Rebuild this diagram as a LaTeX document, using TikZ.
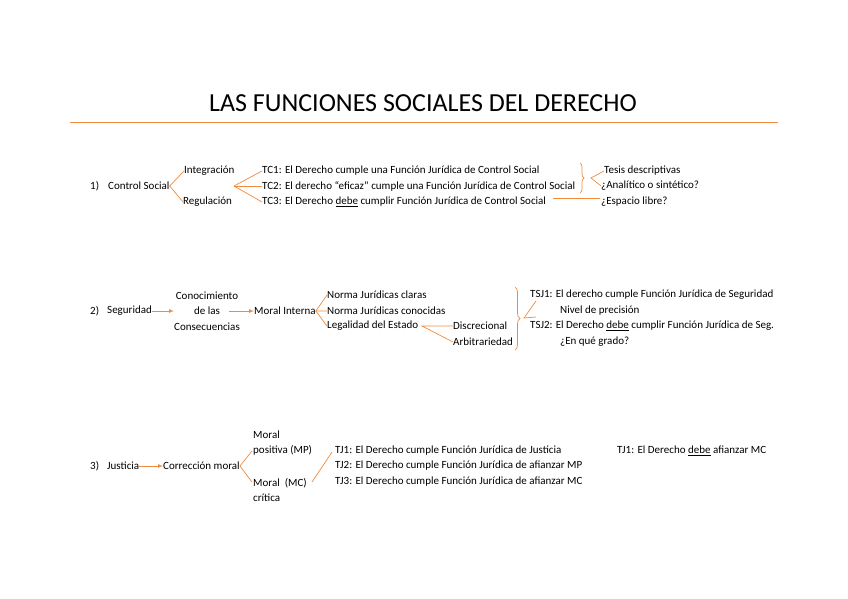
\documentclass[tikz,border=0pt]{standalone}
\usepackage{fontspec}
\setmainfont{Carlito}
\usetikzlibrary{decorations.pathreplacing}
\definecolor{org}{HTML}{F08A3C}
\begin{document}
\begin{tikzpicture}[x=1pt,y=-1pt,
  t/.style={anchor=west,inner sep=0pt,font=\fontsize{11}{12}\selectfont},
  ln/.style={org,line width=0.7pt},
  ar/.style={org,line width=0.7pt,-latex}]
\useasboundingbox (0,0) rectangle (848,599);
\node[inner sep=0pt,font=\fontsize{26}{30}\selectfont] (title) at (423,103) {LAS FUNCIONES SOCIALES DEL DERECHO};
\coordinate (l1) at (70,122); \coordinate (l2) at (778,122);
\draw[org,line width=0.8pt] (l1) -- (l2);
% row 1
\node[t] (n1) at (90,186) {1)};
\node[t] (cs) at (108,186) {Control Social};
\node[t] (int) at (184,171) {Integración};
\node[t] (reg) at (183,202) {Regulación};
\draw[ln] (int.west) -- (cs.east) -- (reg.west);
\node[t] (tc1) at (262,171) {TC1: El Derecho cumple una Función Jurídica de Control Social};
\node[t] (tc2) at (262,186) {TC2: El derecho “eficaz” cumple una Función Jurídica de Control Social};
\node[t] (tc3) at (262,202) {TC3: El Derecho \underline{debe} cumplir Función Jurídica de Control Social};
\coordinate (b1) at (234,186);
\draw[ln] (b1) -- (tc1.west); \draw[ln] (b1) -- (tc2.west); \draw[ln] (b1) -- (tc3.west);
\coordinate (br1a) at (580,163); \coordinate (br1b) at (580,193);
\draw[ln,decorate,decoration={brace,amplitude=4pt}] (br1a) -- (br1b);
\node[t] (tes) at (604,171) {Tesis descriptivas};
\node[t] (ana) at (601,186) {¿Analítico o sintético?};
\node[t] (esp) at (601,202) {¿Espacio libre?};
\coordinate (tip1) at (591,178);
\draw[ln] (tes.west) -- (tip1) -- (ana.west);
\coordinate (h1) at (553,198); \coordinate (h2) at (600,198);
\draw[ln] (h1) -- (h2);
% row 2
\node[t] (n2) at (90,311) {2)};
\node[t] (seg) at (107,311) {Seguridad};
\node[t,align=center,anchor=center] (con) at (207,311) {Conocimiento\\[3.5pt] de las\\[3.5pt]Consecuencias};
\node[t] (mi) at (254,311) {Moral Interna};
\draw[ar] (seg.east) -- (con.west |- seg.east);
\draw[ar] (229,311) -- (mi.west);
\node[t] (nc) at (327,295) {Norma Jurídicas claras};
\node[t] (nco) at (327,311) {Norma Jurídicas conocidas};
\node[t] (leg) at (327,326) {Legalidad del Estado};
\draw[ln] (nc.west) -- (mi.east) -- (nco.west); \draw[ln] (mi.east) -- (leg.west);
\node[t] (dis) at (453,326) {Discrecional};
\node[t] (arb) at (453,342) {Arbitrariedad};
\coordinate (b2) at (422,326);
\draw[ln] (dis.west) -- (b2) -- (arb.west);
\coordinate (br2a) at (515,287); \coordinate (br2b) at (515,350);
\draw[ln,decorate,decoration={brace,amplitude=5pt}] (br2a) -- (br2b);
\node[t] (tsj1) at (530,295) {TSJ1: El derecho cumple Función Jurídica de Seguridad};
\node[t] (niv) at (560,311) {Nivel de precisión};
\node[t] (tsj2) at (530,326) {TSJ2: El Derecho \underline{debe} cumplir Función Jurídica de Seg.};
\node[t] (gra) at (560,342) {¿En qué grado?};
\coordinate (tip2) at (524,318); \coordinate (e1) at (536,301); \coordinate (e2) at (536,317);
\draw[ln] (e1) -- (tip2) -- (e2);
% row 3
\node[t] (n3) at (90,466) {3)};
\node[t] (jus) at (107,466) {Justicia};
\node[t] (cm) at (163,466) {Corrección moral};
\draw[ar] (jus.east) -- (cm.west);
\node[t,align=left,anchor=west] (mp) at (253,443) {Moral\\[3.5pt]positiva (MP)};
\node[t,align=left,anchor=west] (mc) at (253,490) {Moral \ (MC)\\[3.5pt]crítica};
\coordinate (m1) at (252,451); \coordinate (m2) at (252,482);
\draw[ln] (m1) -- (cm.east) -- (m2);
\coordinate (d1) at (312,482); \coordinate (d2) at (332,452);
\draw[ln] (d1) -- (d2);
\node[t] (tj1) at (335,451) {TJ1: El Derecho cumple Función Jurídica de Justicia};
\node[t] (tj2) at (335,466) {TJ2: El Derecho cumple Función Jurídica de afianzar MP};
\node[t] (tj3) at (335,482) {TJ3: El Derecho cumple Función Jurídica de afianzar MC};
\node[t] (tj4) at (617,451) {TJ1: El Derecho \underline{debe} afianzar MC};
\end{tikzpicture}
\end{document}
